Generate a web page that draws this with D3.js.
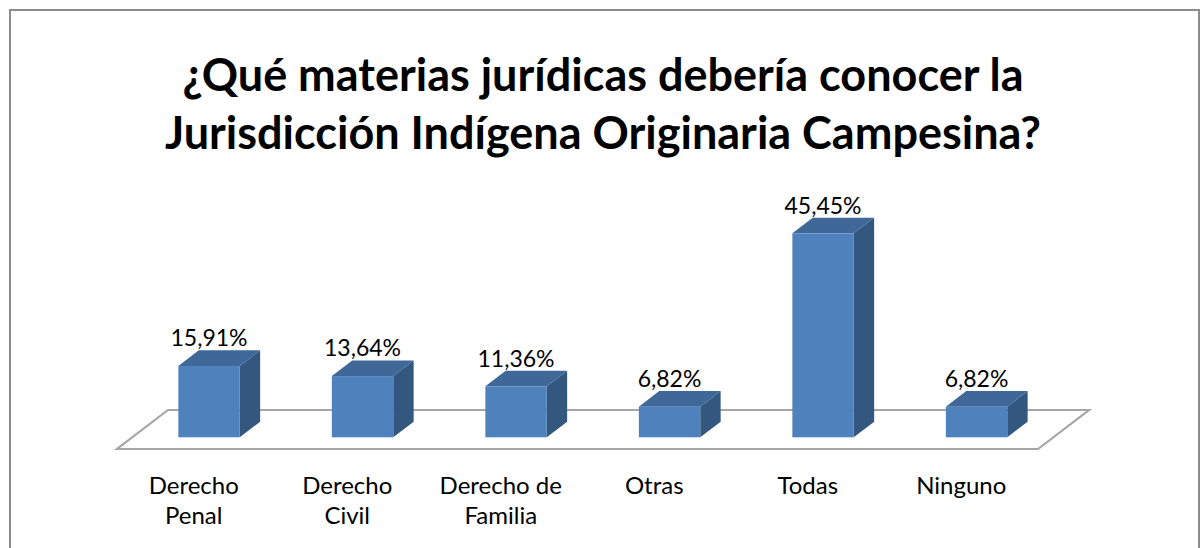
<!DOCTYPE html>
<html>
<head>
<meta charset="utf-8">
<script src="https://cdn.jsdelivr.net/npm/d3@7/dist/d3.min.js"></script>
<style>
  html, body { margin: 0; padding: 0; background: #fff; }
  svg { display: block; }
  text { font-family: Lato, "Open Sans", sans-serif; fill: #000; }
</style>
</head>
<body>
<svg id="chart" width="1204" height="548"></svg>
<script>
const titleLines = ["¿Qué materias jurídicas debería conocer la", "Jurisdicción Indígena Originaria Campesina?"];
const categories = ["Derecho Penal", "Derecho Civil", "Derecho de Familia", "Otras", "Todas", "Ninguno"];
const categoryLines = [["Derecho", "Penal"], ["Derecho", "Civil"], ["Derecho de", "Familia"], ["Otras"], ["Todas"], ["Ninguno"]];
const values = [15.91, 13.64, 11.36, 6.82, 45.45, 6.82];
const valueLabels = ["15,91%", "13,64%", "11,36%", "6,82%", "45,45%", "6,82%"];

const svg = d3.select("#chart");

// chart frame
svg.append("rect")
  .attr("x", 10).attr("y", 10)
  .attr("width", 1189).attr("height", 560)
  .attr("fill", "#fff").attr("stroke", "#8c8c8c").attr("stroke-width", 2);

// title
svg.append("text")
  .attr("text-anchor", "middle")
  .attr("font-weight", "bold")
  .attr("font-size", 45)
  .selectAll("tspan").data(titleLines).join("tspan")
  .attr("x", 603)
  .attr("y", (d, i) => 91 + i * 58)
  .text(d => d);

// geometry
const floorFrontY = 449;
const floorDX = 51, floorDY = 39;
const frontFrac = 0.3, depthFrac = 0.4;

const x = d3.scaleBand().domain(categories).range([117, 1038]).padding(0);
const baseY = floorFrontY - floorDY * frontFrac;
const y = d3.scaleLinear().domain([0, 50]).range([baseY, baseY - 224.4]);

const offX = floorDX * frontFrac;
const dX = floorDX * depthFrac, dY = floorDY * depthFrac;
const barW = x.bandwidth() * 0.4;

// floor
const [x0, x1] = x.range();
svg.append("path")
  .attr("d", `M${x0},${floorFrontY} L${x1},${floorFrontY} L${x1 + floorDX},${floorFrontY - floorDY} L${x0 + floorDX},${floorFrontY - floorDY} Z`)
  .attr("fill", "#fff")
  .attr("stroke", "#a6a6a6")
  .attr("stroke-width", 2.2)
  .attr("stroke-linejoin", "miter");

// bars
const data = categories.map((c, i) => ({ c, v: values[i], label: valueLabels[i], lines: categoryLines[i] }));
const bars = svg.append("g").selectAll("g").data(data).join("g");

bars.each(function(d) {
  const g = d3.select(this);
  const left = x(d.c) + x.bandwidth() / 2 + offX - barW / 2;
  const right = left + barW;
  const top = y(d.v);
  const bottom = y(0);
  // side
  g.append("path")
    .attr("d", `M${right},${top} L${right + dX},${top - dY} L${right + dX},${bottom - dY} L${right},${bottom} Z`)
    .attr("fill", "#34577f");
  // top
  g.append("path")
    .attr("d", `M${left},${top} L${left + dX},${top - dY} L${right + dX},${top - dY} L${right},${top} Z`)
    .attr("fill", "#3f6797");
  // front
  g.append("rect")
    .attr("x", left).attr("y", top)
    .attr("width", barW).attr("height", bottom - top)
    .attr("fill", "#4f81bd");
  // value label
  g.append("text")
    .attr("x", left + barW / 2)
    .attr("y", top - dY - 4)
    .attr("text-anchor", "middle")
    .attr("font-size", 23)
    .text(d.label);
});

// category labels
const catG = svg.append("g");
catG.selectAll("text").data(data).join("text")
  .attr("text-anchor", "middle")
  .attr("font-size", 24)
  .each(function(d) {
    d3.select(this).selectAll("tspan").data(d.lines).join("tspan")
      .attr("x", x(d.c) + x.bandwidth() / 2)
      .attr("y", (t, i) => 494 + i * 30)
      .text(t => t);
  });
</script>
</body>
</html>
